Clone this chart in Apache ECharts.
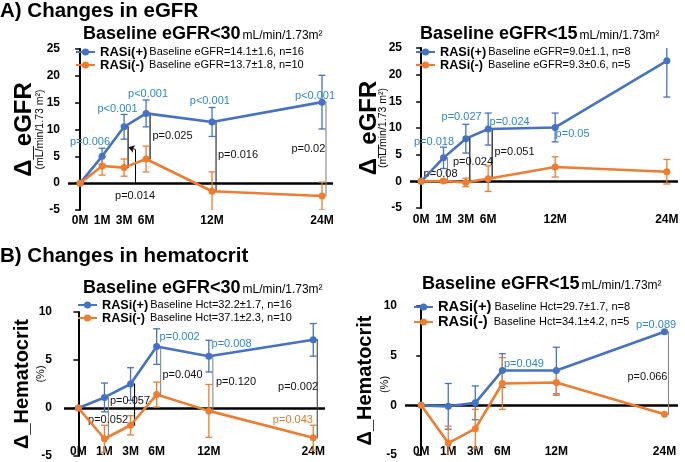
<!DOCTYPE html>
<html><head><meta charset="utf-8">
<script src="https://cdn.jsdelivr.net/npm/echarts@6/dist/echarts.min.js"></script>
<style>html,body{margin:0;padding:0;background:#fff}#c{width:685px;height:462px}</style>
</head><body><div id="c"></div>
<script>
// ---------------- DATA ----------------
const monthLabels = ['0M', '1M', '3M', '6M', '12M', '24M'];
// slot of each visit on the horizontal scale (as spaced in the original figure)
const slotsEGFR = [0, 1, 2, 3, 6, 11];
const slotsHct  = [0, 1, 2, 3, 5, 9];

// Panel A-1: eGFR, baseline eGFR<30
const egfr30Plus     = [0, 5.0, 10.5, 13.0, 11.4, 15.1];
const egfr30PlusErr  = [0, 1.5, 2.3, 2.5, 2.7, 5.0];
const egfr30Minus    = [0, 3.2, 2.9, 4.5, -1.5, -2.4];
const egfr30MinusErr = [0, 1.7, 1.6, 2.4, 3.6, 2.6];
const egfr30Legend   = ['Baseline eGFR=14.1±1.6, n=16', 'Baseline eGFR=13.7±1.8, n=10'];
const egfr30Brackets = [2, 3, 4, 5];

// Panel A-2: eGFR, baseline eGFR<15
const egfr15Plus     = [0, 4.4, 8.0, 9.8, 10.1, 22.6];
const egfr15PlusErr  = [0, 2.0, 2.7, 3.0, 2.7, 6.8];
const egfr15Minus    = [0, 0.05, -0.2, 0.5, 2.7, 1.8];
const egfr15MinusErr = [0, 0.3, 0.8, 2.4, 1.9, 2.3];
const egfr15Legend   = ['Baseline eGFR=9.0±1.1, n=8', 'Baseline eGFR=9.3±0.6, n=5'];
const egfr15Brackets = [1, 2, 3];

// Panel B-1: hematocrit, baseline eGFR<30
const hct30Plus     = [0, 1.1, 2.5, 6.4, 5.4, 7.1];
const hct30PlusErr  = [0, 1.5, 1.7, 1.85, 1.65, 1.7];
const hct30Minus    = [0, -3.2, -1.8, 1.4, -0.3, -3.1];
const hct30MinusErr = [0, 1.4, 1.0, 1.3, 2.75, 1.3];
const hct30Legend   = ['Baseline Hct=32.2±1.7, n=16', 'Baseline Hct=37.1±2.3, n=10'];
const hct30Brackets = [1, 2, 3, 4, 5];

// Panel B-2: hematocrit, baseline eGFR<15
const hct15Plus     = [0, -0.1, 0.25, 3.5, 3.5, 7.4];
const hct15PlusErr  = [0, 2.3, 1.7, 1.7, 2.35, 0];
const hct15Minus    = [0, -3.8, -2.35, 2.2, 2.3, -0.9];
const hct15MinusErr = [0, 1.7, 1.95, 2.6, 1.3, 0];
const hct15Legend   = ['Baseline Hct=29.7±1.7, n=8', 'Baseline Hct=34.1±4.2, n=5'];
const hct15Brackets = [5];

// p-value annotations: [text, kind]  (kind: 'w' within RASi(+), 'b' between groups, 'o' within RASi(-))
const pEgfr30 = [['p=0.006','w'],['p<0.001','w'],['p<0.001','w'],['p<0.001','w'],['p<0.001','w'],
                 ['p=0.025','b'],['p=0.016','b'],['p=0.02','b'],['p=0.014','b']];
const pEgfr15 = [['p=0.018','w'],['p=0.027','w'],['p=0.024','w'],['p=0.05','w'],
                 ['p=0.024','b'],['p=0.051','b'],['p=0.08','b']];
const pHct30  = [['p=0.002','w'],['p=0.008','w'],['p=0.01','w'],['p=0.040','b'],['p=0.120','b'],
                 ['p=0.002','b'],['p=0.057','b'],['p=0.052','b'],['p=0.043','o']];
const pHct15  = [['p=0.049','w'],['p=0.089','w'],['p=0.066','b']];

// ---------------- LAYOUT / STYLE ----------------
const FONT = '"Liberation Sans", Arial, Helvetica, sans-serif';
const BLUE = '#4472C4', ORANGE = '#ED7D31';
const PCOLOR = { w: '#2C86CC', b: '#111', o: '#E0782E' };

// where each p-value text sits (axis units of its panel)
const pAt = [
  [[0.45,7.64],[1.70,13.79],[3.09,16.58],[5.90,15.28],[10.68,16.21],[4.20,8.76],[7.18,5.22],[10.38,6.33],[2.50,-2.42]],
  [[0.575,7.37],[1.81,12.06],[3.96,11.12],[6.78,8.87],[2.32,3.62],[4.18,5.49],[0.87,1.37]],
  [[3.88,7.42],[5.87,6.69],[9.72,8.14],[3.99,3.49],[6.04,2.66],[8.42,2.14],[1.98,0.69],[1.14,-1.27],[8.22,-1.27]],
  [[3.80,4.16],[8.69,8.09],[8.37,2.85]]
];

const panels = [
  { title:'Baseline eGFR<30', slots:slotsEGFR, plus:egfr30Plus, plusErr:egfr30PlusErr, minus:egfr30Minus, minusErr:egfr30MinusErr,
    legend:egfr30Legend, brackets:egfr30Brackets, p:pEgfr30, yMin:-5, yMax:25, yName:'Δ_eGFR', ySub:'(mL/min/1.73 m²)' },
  { title:'Baseline eGFR<15', slots:slotsEGFR, plus:egfr15Plus, plusErr:egfr15PlusErr, minus:egfr15Minus, minusErr:egfr15MinusErr,
    legend:egfr15Legend, brackets:egfr15Brackets, p:pEgfr15, yMin:-5, yMax:25, yName:'Δ_eGFR', ySub:'(mL/min/1.73 m²)' },
  { title:'Baseline eGFR<30', slots:slotsHct, plus:hct30Plus, plusErr:hct30PlusErr, minus:hct30Minus, minusErr:hct30MinusErr,
    legend:hct30Legend, brackets:hct30Brackets, p:pHct30, yMin:-5, yMax:10, yName:'Δ_Hematocrit', ySub:'(%)' },
  { title:'Baseline eGFR<15', slots:slotsHct, plus:hct15Plus, plusErr:hct15PlusErr, minus:hct15Minus, minusErr:hct15MinusErr,
    legend:hct15Legend, brackets:hct15Brackets, p:pHct15, yMin:-5, yMax:10, yName:'Δ_Hematocrit', ySub:'(%)' }
];

const L = [
  { grid:{left:68, top:49, width:265, height:161}, xMin:-0.55, xMax:11.5, xMargin:5, yMargin:8,
    nameGap:22, nameSize:24, nameLH:19, subSize:10.5, subLH:12, subPad:[0,0,0,0], title:[83,25], legend:[75,45.5], legendFS:13, legendPad:[2,5],
    bracketColors:['#000','#000','#222','#888'] },
  { grid:{left:410, top:48, width:268, height:160}, xMin:-0.5, xMax:11.5, xMargin:6, yMargin:8,
    nameGap:20.5, nameSize:24, nameLH:16, subSize:10.5, subLH:12, subPad:[0,0,0,0], title:[420,25], legend:[415,45.5], legendFS:12.7, legendPad:[2,5],
    bracketColors:['#888','#000','#000'] },
  { grid:{left:64, top:312, width:261, height:145}, xMin:-0.55, xMax:9.45, xMargin:-10, yMargin:12,
    nameGap:17, nameSize:20, nameLH:26, subSize:11, subLH:12, subPad:[0,0,0,20], title:[83,279], legend:[77,298.5], legendFS:12.7, legendPad:[2,5],
    bracketColors:['#888','#000','#888','#888','#444'] },
  { grid:{left:405, top:306, width:273, height:149}, xMin:-0.6, xMax:9.5, xMargin:-9, yMargin:8,
    nameGap:14, nameSize:20, nameLH:28, subSize:11, subLH:12, subPad:[0,8,0,0], title:[422,275], legend:[413,299.5], legendFS:14.7, legendPad:[3,6],
    bracketColors:['#888'] }
];

// ---------------- BUILD ----------------
function errRender(color) {
  return function (params, api) {
    const x = api.value(0), y = api.value(1), e = api.value(2);
    if (!e) return null;
    const t = api.coord([x, y + e]), b = api.coord([x, y - e]);
    const st = { stroke: color, lineWidth: 1.3 };
    return { type: 'group', children: [
      { type: 'line', shape: { x1: t[0], y1: t[1], x2: b[0], y2: b[1] }, style: st },
      { type: 'line', shape: { x1: t[0] - 3.5, y1: t[1], x2: t[0] + 3.5, y2: t[1] }, style: st },
      { type: 'line', shape: { x1: b[0] - 3.5, y1: b[1], x2: b[0] + 3.5, y2: b[1] }, style: st }
    ]};
  };
}
function bracketRender(colors) {
  return function (params, api) {
    const x = api.value(0), y1 = api.value(1), y2 = api.value(2);
    const a = api.coord([x, y1]), b = api.coord([x, y2]);
    const xx = a[0] + 4;
    return { type: 'polyline', shape: { points: [[xx - 3.5, a[1]], [xx, a[1]], [xx, b[1]], [xx - 3.5, b[1]]] },
      style: { stroke: colors[params.dataIndex], lineWidth: 1.1, fill: null } };
  };
}

const option = {
  animation: false,
  backgroundColor: '#fff',
  textStyle: { fontFamily: FONT },
  title: [
    { text: 'A) Changes in eGFR', left: 0, top: 1, padding: 0, textStyle: { fontSize: 20.5, fontWeight: 'bold', color: '#000', fontFamily: FONT } },
    { text: 'B) Changes in hematocrit', left: 0, top: 246, padding: 0, textStyle: { fontSize: 20.5, fontWeight: 'bold', color: '#000', fontFamily: FONT } }
  ],
  grid: [], xAxis: [], yAxis: [], legend: [], series: []
};

panels.forEach((P, k) => {
  const lay = L[k];
  option.grid.push(lay.grid);
  option.title.push({
    text: '{a|' + P.title + '}{b|mL/min/1.73m²}', left: lay.title[0], top: lay.title[1], padding: 0,
    textStyle: { rich: {
      a: { fontSize: 18, fontWeight: 'bold', color: '#000', fontFamily: FONT },
      b: { fontSize: 12, fontWeight: 'normal', color: '#000', fontFamily: FONT, padding: [4, 0, 0, 2] } } }
  });
  option.xAxis.push({
    type: 'value', gridIndex: k, min: lay.xMin, max: lay.xMax,
    axisLine: { show: false }, axisTick: { show: false }, splitLine: { show: false },
    axisLabel: { customValues: P.slots, formatter: v => monthLabels[P.slots.indexOf(v)] || '',
      fontSize: 12, fontWeight: 'bold', color: '#000', margin: lay.xMargin, fontFamily: FONT }
  });
  option.yAxis.push({
    type: 'value', gridIndex: k, min: P.yMin, max: P.yMax, interval: 5,
    axisLine: { show: true, lineStyle: { color: '#000', width: 2 } },
    axisTick: { show: true, length: 5, lineStyle: { color: '#000', width: 1.5 } },
    splitLine: { show: false },
    axisLabel: { fontSize: 12, fontWeight: 'bold', color: '#000', margin: lay.yMargin, fontFamily: FONT },
    name: '{a|' + P.yName + '}\n{b|' + P.ySub + '}', nameLocation: 'middle', nameRotate: 90, nameGap: lay.nameGap,
    nameMoveOverlap: false,
    nameTextStyle: { rich: {
      a: { fontSize: lay.nameSize, fontWeight: 'bold', color: '#000', lineHeight: lay.nameLH, fontFamily: FONT },
      b: { fontSize: lay.subSize, color: '#000', lineHeight: lay.subLH, padding: lay.subPad, fontFamily: FONT } } }
  });
  const nPlus = 'RASi(+)#' + k, nMinus = 'RASi(-)#' + k;
  option.legend.push({
    left: lay.legend[0], top: lay.legend[1], orient: 'vertical', padding: 0, itemGap: 0,
    itemWidth: 19, itemHeight: 9, selectedMode: false, data: [nPlus, nMinus],
    formatter: name => {
      const lbl = name.split('#')[0];
      return lbl === 'RASi(+)' ? '{b1|' + lbl + '}{n|' + P.legend[0] + '}' : '{b2|' + lbl + '}{n|' + P.legend[1] + '}';
    },
    textStyle: { rich: {
      b1: { fontSize: lay.legendFS, fontWeight: 'bold', color: '#000', lineHeight: 15, padding: [0, lay.legendPad[0], 0, 0], fontFamily: FONT },
      b2: { fontSize: lay.legendFS, fontWeight: 'bold', color: '#000', lineHeight: 15, padding: [0, lay.legendPad[1], 0, 0], fontFamily: FONT },
      n: { fontSize: 11, color: '#000', lineHeight: 15, fontFamily: FONT } } }
  });
  const lineBase = { type: 'line', xAxisIndex: k, yAxisIndex: k, symbol: 'circle', symbolSize: 7, z: 5 };
  option.series.push(Object.assign({}, lineBase, {
    name: nPlus, data: P.slots.map((s, i) => [s, P.plus[i]]),
    lineStyle: { color: BLUE, width: 2.6 }, itemStyle: { color: BLUE }
  }));
  const markLineData = [{ yAxis: 0, lineStyle: { color: '#000', width: 2.5, type: 'solid' } }];
  if (k === 0) {
    markLineData.push([{ coord: [2.5, 0], symbol: 'none', lineStyle: { color: '#000', width: 1, type: 'solid' } },
                       { coord: [2.5, 6.3], symbol: 'none' }]);
    markLineData.push([{ coord: [2.5, 6.3], symbol: 'none', lineStyle: { color: '#000', width: 1, type: 'solid' } },
                       { coord: [2.2, 6.7], symbol: 'arrow', symbolSize: 6 }]);
  }
  option.series.push(Object.assign({}, lineBase, {
    name: nMinus, data: P.slots.map((s, i) => [s, P.minus[i]]),
    lineStyle: { color: ORANGE, width: 2.6 }, itemStyle: { color: ORANGE },
    markLine: { silent: true, symbol: 'none', animation: false, label: { show: false }, z: 2, data: markLineData },
    markPoint: { silent: true, animation: false, symbol: 'rect', symbolSize: 1, itemStyle: { color: 'rgba(0,0,0,0)' },
      data: P.p.map((pp, i) => ({ name: pp[0], coord: pAt[k][i],
        label: { show: true, position: 'inside', formatter: '{b}', fontSize: 11, color: PCOLOR[pp[1]], fontFamily: FONT } })) }
  }));
  option.series.push({ type: 'custom', xAxisIndex: k, yAxisIndex: k, clip: true, z: 4, renderItem: errRender(BLUE),
    data: P.slots.map((s, i) => [s, P.plus[i], P.plusErr[i]]) });
  option.series.push({ type: 'custom', xAxisIndex: k, yAxisIndex: k, clip: true, z: 4, renderItem: errRender(ORANGE),
    data: P.slots.map((s, i) => [s, P.minus[i], P.minusErr[i]]) });
  option.series.push({ type: 'custom', xAxisIndex: k, yAxisIndex: k, z: 3, renderItem: bracketRender(lay.bracketColors),
    data: P.brackets.map(i => [P.slots[i], P.plus[i], P.minus[i]]) });
});

const chart = echarts.init(document.getElementById('c'), null, { renderer: 'canvas' });
chart.setOption(option);
</script></body></html>
